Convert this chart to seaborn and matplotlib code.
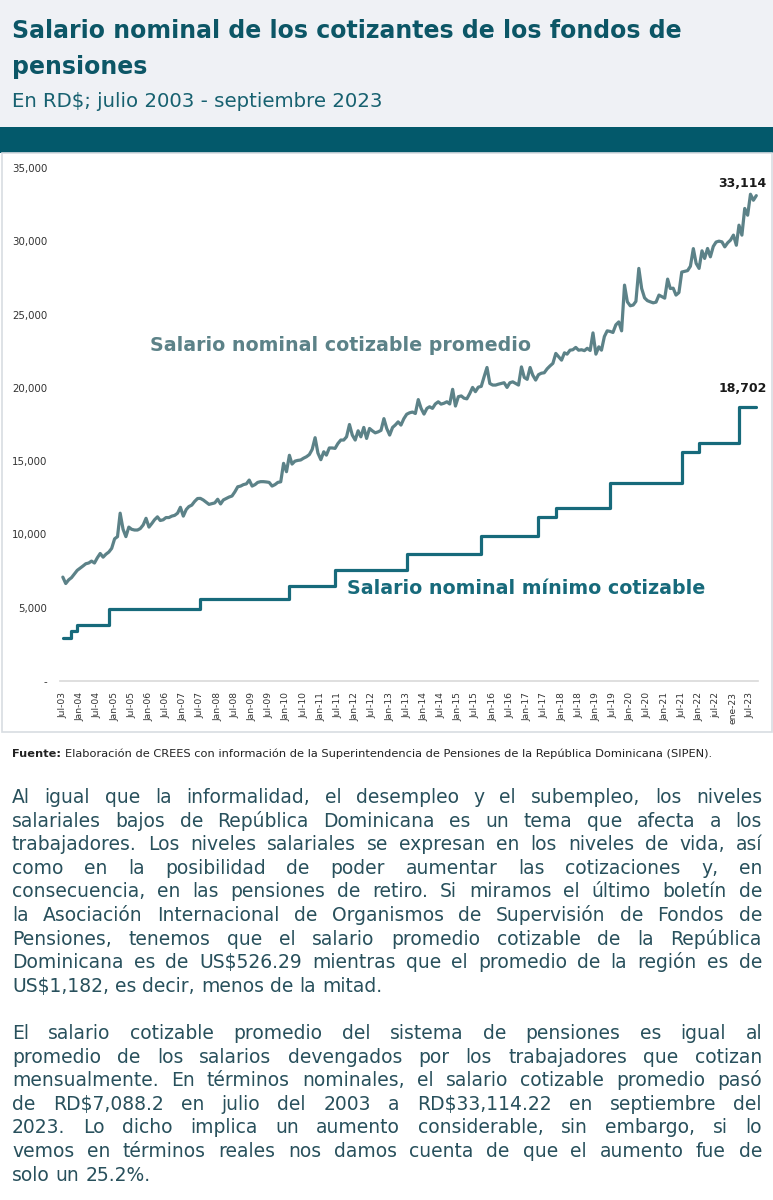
import matplotlib
matplotlib.use("Agg")
import matplotlib.pyplot as plt
import matplotlib.patches as patches
import pandas as pd
import seaborn as sns

W, H = 773, 1200

# salario nominal cotizable promedio, mensual jul-2003 a sep-2023 (RD$)
promedio = [
    7088, 6650, 6900, 7050, 7300, 7550, 7700, 7850, 8000, 8050, 8180, 8050,
    8400, 8700, 8450, 8650, 8800, 9050, 9700, 9850, 11450, 10350, 9850, 10500,
    10350, 10300, 10300, 10400, 10650, 11100, 10500, 10750, 11000, 11200, 10950, 11000,
    11150, 11150, 11250, 11300, 11450, 11850, 11250, 11700, 11900, 12000, 12250, 12450,
    12460, 12350, 12200, 12050, 12100, 12150, 12400, 12080, 12350, 12450, 12550, 12620,
    12900, 13250, 13300, 13400, 13450, 13710, 13300, 13400, 13550, 13600, 13600, 13580,
    13550, 13300, 13400, 13550, 13590, 14850, 14280, 15400, 14800, 15000, 15050, 15080,
    15200, 15300, 15450, 15800, 16600, 15550, 15100, 15640, 15410, 15900, 15900, 15870,
    16200, 16440, 16440, 16660, 17500, 16780, 16440, 17070, 16660, 17300, 16550, 17230,
    17070, 16930, 17000, 17100, 17900, 17230, 16780, 17300, 17460, 17680, 17460, 17900,
    18200, 18300, 18350, 18250, 19200, 18600, 18210, 18600, 18710, 18600, 18900, 19050,
    18890, 18950, 19050, 18900, 19900, 18760, 19400, 19450, 19300, 19250, 19600, 20030,
    19740, 20050, 20100, 20750, 21390, 20300, 20190, 20190, 20250, 20300, 20350, 20030,
    20350, 20410, 20300, 20190, 21430, 20710, 20580, 21390, 20870, 20530, 20900, 21000,
    21030, 21300, 21500, 21670, 22350, 22120, 21890, 22390, 22300, 22570, 22600, 22760,
    22570, 22600, 22540, 22700, 22550, 23750, 22300, 22800, 22570, 23500, 23890, 23850,
    23780, 24300, 24500, 23890, 27010, 25870, 25600, 25650, 25900, 28150, 26780, 26140,
    25950, 25870, 25800, 25850, 26330, 26230, 26120, 27420, 26780, 26800, 26330, 26500,
    27900, 27950, 28000, 28300, 29500, 28490, 28150, 29350, 28830, 29510, 28940, 29650,
    29950, 30010, 29960, 29620, 29900, 30080, 30420, 29730, 31100, 30420, 32240, 31780,
    33210, 32800, 33114,
]

# salario nominal minimo cotizable: meses en que cambia (escalones)
minimo_fechas = [
    "2003-07", "2003-10", "2003-12", "2004-11", "2007-07", "2010-02", "2011-06",
    "2013-07", "2015-09", "2017-05", "2017-11", "2019-06", "2021-07", "2022-01",
    "2023-03", "2023-09",
]
minimo_valores = [
    2950, 3430, 3820, 4910, 5570, 6500, 7600,
    8650, 9870, 11160, 11820, 13480, 15620, 16250,
    18702, 18702,
]

tick_labels = [
    "Jul-03", "Jan-04", "Jul-04", "Jan-05", "Jul-05", "Jan-06", "Jul-06", "Jan-07",
    "Jul-07", "Jan-08", "Jul-08", "Jan-09", "Jul-09", "Jan-10", "Jul-10", "Jan-11",
    "Jul-11", "Jan-12", "Jul-12", "Jan-13", "Jul-13", "Jan-14", "Jul-14", "Jan-15",
    "Jul-15", "Jan-16", "Jul-16", "Jan-17", "Jul-17", "Jan-18", "Jul-18", "Jan-19",
    "Jul-19", "Jan-20", "Jul-20", "Jan-21", "Jul-21", "Jan-22", "jul-22", "ene-23",
    "Jul-23",
]

titulo = ["Salario nominal de los cotizantes de los fondos de", "pensiones"]
subtitulo = "En RD$; julio 2003 - septiembre 2023"
fuente_b = "Fuente:"
fuente = ("Elaboración de CREES con información de la Superintendencia de "
          "Pensiones de la República Dominicana (SIPEN).")

parrafo1 = [
    "Al igual que la informalidad, el desempleo y el subempleo, los niveles",
    "salariales bajos de República Dominicana es un tema que afecta a los",
    "trabajadores. Los niveles salariales se expresan en los niveles de vida, así",
    "como en la posibilidad de poder aumentar las cotizaciones y, en",
    "consecuencia, en las pensiones de retiro. Si miramos el último boletín de",
    "la Asociación Internacional de Organismos de Supervisión de Fondos de",
    "Pensiones, tenemos que el salario promedio cotizable de la República",
    "Dominicana es de US$526.29 mientras que el promedio de la región es de",
    "US$1,182, es decir, menos de la mitad.",
]
parrafo2 = [
    "El salario cotizable promedio del sistema de pensiones es igual al",
    "promedio de los salarios devengados por los trabajadores que cotizan",
    "mensualmente. En términos nominales, el salario cotizable promedio pasó",
    "de RD$7,088.2 en julio del 2003 a RD$33,114.22 en septiembre del",
    "2023. Lo dicho implica un aumento considerable, sin embargo, si lo",
    "vemos en términos reales nos damos cuenta de que el aumento fue de",
    "solo un 25.2%.",
]

C_TITLE = "#0c5666"
C_BAND = "#03596b"
C_PROM = "#5c8288"
C_MIN = "#176a7b"
C_BODY = "#28505c"

sns.set_style("white")
plt.rcParams["font.family"] = ["DejaVu Sans"]

fig = plt.figure(figsize=(W / 100, H / 100), dpi=100)


def fy(y):
    return 1 - y / H


def box(x0, y0, x1, y1, **kw):
    fig.add_artist(patches.Rectangle((x0 / W, fy(y1)), (x1 - x0) / W, (y1 - y0) / H,
                                     transform=fig.transFigure, zorder=-5, **kw))


# cabecera, franja y panel
box(0, 0, W, 128, facecolor="#eff1f5", edgecolor="none")
box(0, 127, W, 153, facecolor=C_BAND, edgecolor="none")
box(1.5, 153, 771.5, 732, facecolor="white", edgecolor="#d8dde2", linewidth=1.2)

fig.text(12 / W, fy(38), titulo[0], fontsize=17, fontweight="bold", color=C_TITLE)
fig.text(12 / W, fy(74), titulo[1], fontsize=17, fontweight="bold", color=C_TITLE)
fig.text(12 / W, fy(107), subtitulo, fontsize=14.2, color="#176170")

# grafico
ax = fig.add_axes([60 / W, fy(681), 698 / W, 521 / H])
ax.set_facecolor("none")

df_prom = pd.DataFrame({
    "fecha": pd.date_range("2003-07-01", periods=len(promedio), freq="MS"),
    "salario": promedio,
})
df_min = pd.DataFrame({"fecha": pd.to_datetime(minimo_fechas), "salario": minimo_valores})

sns.lineplot(data=df_prom, x="fecha", y="salario", color=C_PROM, linewidth=2.3, ax=ax)
sns.lineplot(data=df_min, x="fecha", y="salario", color=C_MIN, linewidth=2.3,
             drawstyle="steps-post", ax=ax)

ax.set_xlim(pd.Timestamp("2003-06-01"), pd.Timestamp("2023-09-19"))
ax.set_ylim(0, 35546)
ax.set_xticks(pd.date_range("2003-07-01", "2023-07-01", freq="6MS"))
ax.set_xticklabels(tick_labels, rotation=90, fontsize=6.6, color="#333333")
yt = list(range(0, 35001, 5000))
ax.set_yticks(yt)
ax.set_yticklabels(["-" if v == 0 else f"{v:,}" for v in yt], fontsize=7.4, color="#333333")
ax.tick_params(axis="both", length=0)
ax.tick_params(axis="x", pad=8)
ax.tick_params(axis="y", pad=9)
ax.set_xlabel("")
ax.set_ylabel("")
for s in ["top", "right", "left"]:
    ax.spines[s].set_visible(False)
ax.spines["bottom"].set_color("#d9d9d9")
ax.spines["bottom"].set_linewidth(1.2)

ax.annotate(f"{promedio[-1]:,}", (df_prom["fecha"].iloc[-1], promedio[-1]),
            xytext=(10, 9), textcoords="offset pixels", ha="right", va="baseline",
            fontsize=9, fontweight="bold", color="#1a1a1a")
ax.annotate(f"{minimo_valores[-1]:,}", (df_min["fecha"].iloc[-1], minimo_valores[-1]),
            xytext=(11, 15), textcoords="offset pixels", ha="right", va="baseline",
            fontsize=9, fontweight="bold", color="#1a1a1a")

fig.text(150 / W, fy(351), "Salario nominal cotizable promedio", fontsize=13.7,
         fontweight="bold", color=C_PROM)
fig.text(347 / W, fy(594), "Salario nominal mínimo cotizable", fontsize=13.7,
         fontweight="bold", color=C_MIN)

# fuente
renderer = fig.canvas.get_renderer()
tb = fig.text(12 / W, fy(757), fuente_b, fontsize=8.2, fontweight="bold", color="#222222")
wb = tb.get_window_extent(renderer).width
fig.text((12 + wb + 4) / W, fy(757), fuente, fontsize=8.2, color="#222222")


# texto justificado
def justified(lines, y0, size=13.5, step=23.6, x0=12, x1=762):
    a = fig.text(0, 0, "xx", fontsize=size)
    b = fig.text(0, 0, "x x", fontsize=size)
    space = b.get_window_extent(renderer).width - a.get_window_extent(renderer).width
    a.remove()
    b.remove()
    for i, line in enumerate(lines):
        words = line.split()
        texts = [fig.text(0, fy(y0 + i * step), w, fontsize=size, color=C_BODY,
                          va="baseline") for w in words]
        widths = [t.get_window_extent(renderer).width for t in texts]
        if i == len(lines) - 1 or len(words) == 1:
            gap = space
        else:
            gap = (x1 - x0 - sum(widths)) / (len(words) - 1)
        x = x0
        for t, w in zip(texts, widths):
            t.set_x(x / W)
            x += w + gap


justified(parrafo1, 803)
justified(parrafo2, 1039)

fig.savefig("out.png", dpi=100)
